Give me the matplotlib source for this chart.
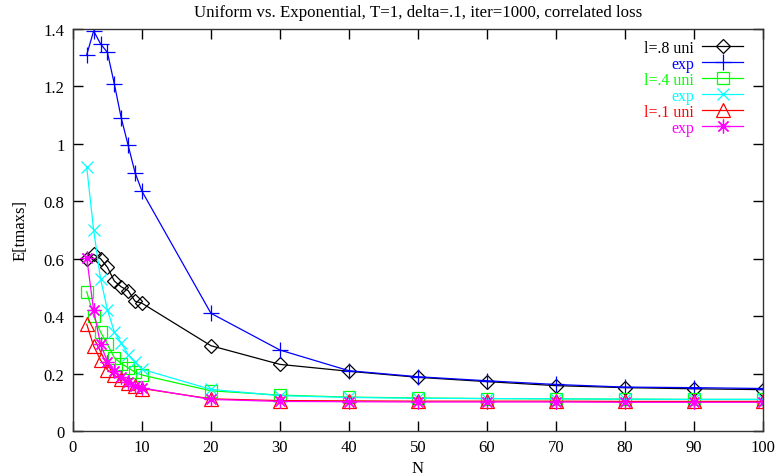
import numpy as np
import matplotlib
matplotlib.use("Agg")
import matplotlib.pyplot as plt
from matplotlib.ticker import FormatStrFormatter

plt.rcParams['font.family'] = ['Liberation Serif', 'DejaVu Serif']

# x values (N)
n = [2, 3, 4, 5, 6, 7, 8, 9, 10, 20, 30, 40, 50, 60, 70, 80, 90, 100]

# l=.8
uni_08 = [0.60, 0.615, 0.60, 0.57, 0.522, 0.502, 0.489, 0.452, 0.445,
          0.297, 0.232, 0.208, 0.187, 0.172, 0.158, 0.151, 0.147, 0.144]
exp_08 = [1.31, 1.393, 1.348, 1.318, 1.208, 1.09, 0.995, 0.90, 0.835,
          0.41, 0.282, 0.21, 0.189, 0.175, 0.162, 0.153, 0.151, 0.148]
# l=.4
uni_04 = [0.485, 0.40, 0.345, 0.302, 0.255, 0.235, 0.22, 0.205, 0.195,
          0.14, 0.125, 0.118, 0.115, 0.113, 0.112, 0.111, 0.11, 0.11]
exp_04 = [0.918, 0.70, 0.53, 0.422, 0.345, 0.306, 0.266, 0.242, 0.215,
          0.145, 0.123, 0.117, 0.114, 0.113, 0.112, 0.111, 0.11, 0.11]
# l=.1
uni_01 = [0.372, 0.296, 0.247, 0.213, 0.194, 0.181, 0.168, 0.156, 0.148,
          0.112, 0.106, 0.105, 0.104, 0.104, 0.104, 0.103, 0.103, 0.103]
exp_01 = [0.603, 0.42, 0.302, 0.242, 0.21, 0.187, 0.17, 0.158, 0.15,
          0.11, 0.103, 0.102, 0.101, 0.101, 0.101, 0.100, 0.100, 0.100]

labels = ['l=.8 uni', 'exp', 'l=.4 uni', 'exp', 'l=.1 uni', 'exp']
colors = ['#000000', '#0000ff', '#00ff00', '#00ffff', '#ff0000', '#ff00ff']
markers = ['D', '+', 's', 'x', '^', (8, 2, 0)]
sizes = [7, 11, 9, 9, 10, 10]
data = [uni_08, exp_08, uni_04, exp_04, uni_01, exp_01]

fig = plt.figure(figsize=(7.76, 4.77), dpi=100)
ax = fig.add_axes([0.094, 0.0943, 0.889, 0.843])

for vals, lab, col, mk, ms in zip(data, labels, colors, markers, sizes):
    ax.plot(n, vals, color=col, lw=0.9, marker=mk, ms=ms,
            mfc='none', mec=col, mew=0.9, label=lab)

ax.set_xlim(0, 100)
ax.set_ylim(0, 1.4)
ax.set_xticks(np.arange(0, 101, 10))
ax.set_yticks(np.arange(0, 1.41, 0.2))
ax.yaxis.set_major_formatter(FormatStrFormatter('%g'))
ax.tick_params(direction='in', length=7, width=1, top=True, right=True,
               labelsize=12, pad=6)
for s in ax.spines.values():
    s.set_linewidth(1.0)
    s.set_color('#333333')

ax.set_xlabel('N', fontsize=12, labelpad=3)
ax.set_ylabel('E[tmaxs]', fontsize=12, labelpad=11)
ax.set_title('Uniform vs. Exponential, T=1, delta=.1, iter=1000, correlated loss',
             fontsize=12.2, pad=9)

leg = ax.legend(loc='upper right', markerfirst=False, frameon=False,
                labelcolor='linecolor', fontsize=11.5, handlelength=2.6,
                handletextpad=0.5, labelspacing=0.0,
                borderaxespad=0.3, bbox_to_anchor=(0.988, 1.0))

fig.savefig('out.png', dpi=100)
